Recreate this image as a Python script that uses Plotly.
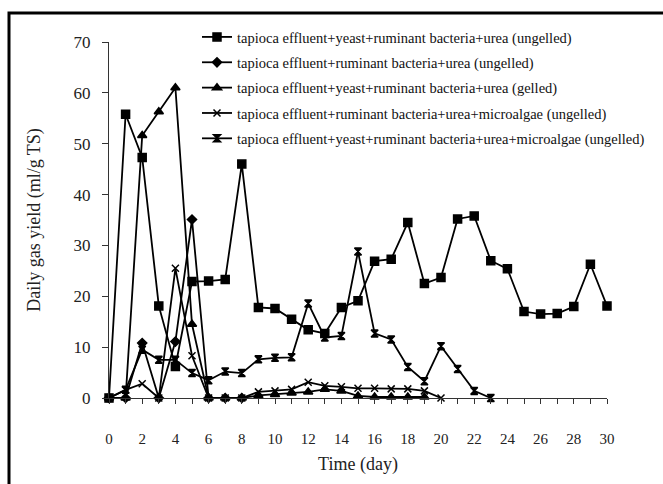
import plotly.graph_objects as go

days = list(range(0, 31))

names = [
    "tapioca effluent+yeast+ruminant bacteria+urea (ungelled)",
    "tapioca effluent+ruminant bacteria+urea (ungelled)",
    "tapioca effluent+yeast+ruminant bacteria+urea (gelled)",
    "tapioca effluent+ruminant bacteria+urea+microalgae (ungelled)",
    "tapioca effluent+yeast+ruminant bacteria+urea+microalgae (ungelled)",
]

s1 = [0, 55.8, 47.3, 18.1, 6.2, 22.9, 23.0, 23.3, 46.0, 17.8, 17.6, 15.5, 13.4, 12.7,
      17.8, 19.1, 26.9, 27.3, 34.5, 22.5, 23.7, 35.2, 35.8, 27.0, 25.4, 17.0, 16.5,
      16.6, 18.0, 26.3, 18.1]
s2 = [0, 0, 10.8, 0, 11.1, 35.1, 0, 0, 0]
s3 = [0, 0, 51.6, 56.3, 61.0, 14.5, 0, 0, 0, 0.5, 0.7, 1.0, 1.2, 1.7, 1.4, 0.4,
      0.2, 0.2, 0.2, 0.2]
s4 = [0, 1.6, 2.8, 0, 25.5, 8.3, 0, 0, 0, 1.2, 1.4, 1.7, 3.1, 2.4, 2.2, 1.9, 1.9,
      1.8, 1.8, 1.4, 0]
s5 = [0, 1.6, 9.5, 7.5, 7.5, 4.9, 3.5, 5.2, 4.9, 7.6, 7.9, 8.0, 18.6, 11.9, 12.2,
      28.8, 12.7, 11.5, 6.1, 3.3, 10.2, 5.7, 1.4, 0]

series = [s1, s2, s3, s4, s5]
symbols = ["square", "diamond", "triangle-up", "x-thin-open", "hourglass"]
sizes = [8, 7, 8, 7, 7]

W, H = 663, 484
ML, MR, MT, MB = 109, 56, 42, 86
SERIF = "Liberation Serif, Times New Roman, serif"

fig = go.Figure()
for i, (nm, ys) in enumerate(zip(names, series)):
    fig.add_trace(go.Scatter(
        x=days[:len(ys)], y=ys, name=nm, mode="lines+markers",
        line=dict(color="black", width=1.8),
        marker=dict(symbol=symbols[i], size=sizes[i], color="black",
                    line=dict(color="black", width=1.5)),
        cliponaxis=False, legendgroup=f"g{i}",
    ))

pw = W - ML - MR
ph = H - MT - MB

def px2paper_x(px):
    return (px - ML) / pw

def px2paper_y(py):
    return (H - MB - py) / ph

fig.update_layout(
    width=W, height=H,
    margin=dict(l=ML, r=MR, t=MT, b=MB, autoexpand=False),
    paper_bgcolor="white", plot_bgcolor="white",
    font=dict(family=SERIF, color="#222", size=14),
    showlegend=True,
    legend=dict(
        x=px2paper_x(197), y=px2paper_y(21), xanchor="left", yanchor="top",
        bgcolor="rgba(0,0,0,0)", font=dict(family=SERIF, size=14.5, color="#111"),
        tracegroupgap=3.5, traceorder="grouped", itemwidth=30,
    ),
    xaxis=dict(
        range=[0, 30], dtick=2, tick0=0, showgrid=False, zeroline=False,
        showline=True, linecolor="#333", linewidth=1, automargin=False,
        ticks="outside", ticklen=5, tickcolor="#333",
        minor=dict(dtick=1, ticks="outside", ticklen=5, tickcolor="#333"),
        tickfont=dict(family=SERIF, size=15, color="#222"),
        ticklabelstandoff=22,
        title=dict(text="Time (day)", font=dict(family=SERIF, size=18, color="#222"),
                   standoff=11),
    ),
    yaxis=dict(
        range=[0, 70], dtick=10, showgrid=False, zeroline=False,
        showline=True, linecolor="#333", linewidth=1, automargin=False,
        ticks="outside", ticklen=6, tickcolor="#333",
        tickfont=dict(family=SERIF, size=17, color="#222"),
        ticklabelstandoff=8,
        title=dict(text="Daily gas yield (ml/g TS)",
                   font=dict(family=SERIF, size=18, color="#222"), standoff=28),
    ),
    shapes=[dict(type="rect", xref="paper", yref="paper",
                 x0=px2paper_x(9), x1=px2paper_x(700),
                 y0=px2paper_y(520), y1=px2paper_y(13),
                 line=dict(color="black", width=3), fillcolor="rgba(0,0,0,0)",
                 layer="above")],
)

fig.write_html("out.html", config={"displayModeBar": False},
               post_script="document.body.style.margin='0';document.body.style.overflow='hidden';")
